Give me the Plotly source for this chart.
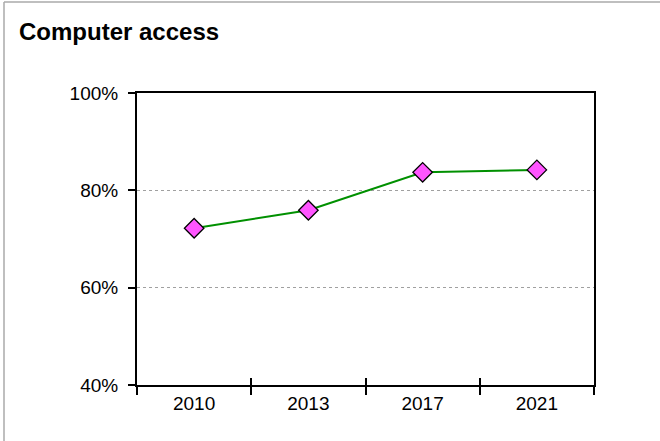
import plotly.graph_objects as go

years = ["2010", "2013", "2017", "2021"]
access = [72.2, 75.9, 83.7, 84.2]
y_ticks = [40, 60, 80, 100]
y_tick_text = ["40%", "60%", "80%", "100%"]

W, H = 660, 441
L, R, T, B = 137, 66, 93, 56
pw, ph = W - L - R, H - T - B

fig = go.Figure()
fig.add_trace(go.Scatter(
    x=years, y=access, mode="lines+markers",
    line=dict(color="#009000", width=2),
    marker=dict(symbol="diamond", size=15, color="#ff55ff",
                line=dict(color="black", width=1.3)),
    showlegend=False, cliponaxis=False,
))
# invisible trace on overlay axis so the x ticks cross the axis line
fig.add_trace(go.Scatter(x=years, y=access, xaxis="x2", mode="none",
                         showlegend=False, hoverinfo="skip"))

axis_font = dict(family="Liberation Sans, Arial, sans-serif", size=19, color="black")

fig.update_layout(
    width=W, height=H,
    margin=dict(l=L, r=R, t=T, b=B),
    paper_bgcolor="white", plot_bgcolor="white",
    title=dict(text="<b>Computer access</b>", x=19 / W, xanchor="left",
               y=1 - 32 / H, yanchor="middle",
               font=dict(family="Liberation Sans, Arial, sans-serif", size=24, color="black")),
    xaxis=dict(type="category", range=[-0.5, 3.5], tickson="boundaries",
               ticks="outside", ticklen=8, tickwidth=2, tickcolor="black",
               showline=True, linecolor="black", linewidth=2, mirror=True,
               showgrid=False, tickfont=axis_font, ticklabelstandoff=0),
    xaxis2=dict(type="category", range=[-0.5, 3.5], tickson="boundaries",
                overlaying="x", side="bottom", ticks="inside", ticklen=7,
                tickwidth=2, tickcolor="black", showticklabels=False,
                showline=False, showgrid=False),
    yaxis=dict(range=[40, 100], tickvals=y_ticks, ticktext=y_tick_text,
               ticks="outside", ticklen=7, tickwidth=2, tickcolor="black",
               showline=True, linecolor="black", linewidth=2, mirror=True,
               showgrid=True, gridcolor="#a0a0a0", griddash="dot", gridwidth=1,
               zeroline=False, tickfont=axis_font, ticklabelstandoff=6),
    shapes=[
        dict(type="line", xref="paper", yref="paper",
             x0=(4 - L) / pw, x1=(W - L) / pw, y0=(H - B - 2) / ph, y1=(H - B - 2) / ph,
             line=dict(color="#aaaaaa", width=1.5)),
        dict(type="line", xref="paper", yref="paper",
             x0=(4 - L) / pw, x1=(4 - L) / pw, y0=(H - B - 2) / ph, y1=-B / ph,
             line=dict(color="#aaaaaa", width=1.5)),
    ],
)

fig.write_html("out.html", config={"displayModeBar": False},
               post_script="document.body.style.margin='0px';")
